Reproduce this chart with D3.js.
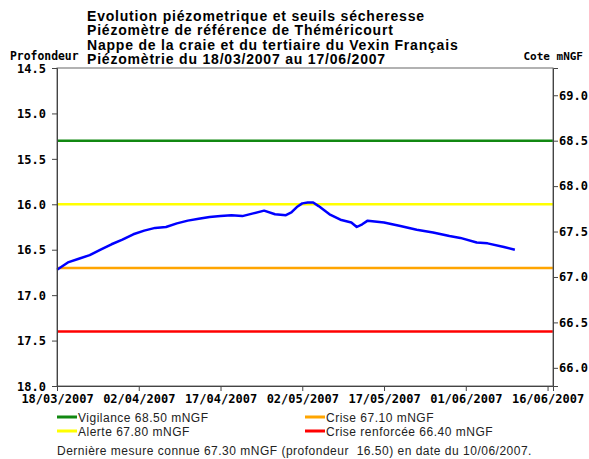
<!DOCTYPE html>
<meta charset="utf-8">
<script src="https://d3js.org/d3.v7.min.js"></script>
<style>
  body { margin: 0; background: #fff; }
</style>
<body>
<div id="chart"></div>
<script>

    // Title lines
    var titleLines = [
        "Evolution piézometrique et seuils sécheresse",
        "Piézomètre de référence de Théméricourt",
        "Nappe de la craie et du tertiaire du Vexin Français",
        "Piézomètrie du 18/03/2007 au 17/06/2007"
    ];

    // Measured depth (profondeur) by date
    var dates = ["18/03/2007","20/03/2007","22/03/2007","24/03/2007","26/03/2007","28/03/2007",
        "30/03/2007","01/04/2007","03/04/2007","05/04/2007","07/04/2007","09/04/2007","11/04/2007",
        "13/04/2007","15/04/2007","17/04/2007","19/04/2007","21/04/2007","23/04/2007","25/04/2007",
        "27/04/2007","29/04/2007","30/04/2007","01/05/2007","02/05/2007","03/05/2007","04/05/2007",
        "05/05/2007","07/05/2007","09/05/2007","11/05/2007","12/05/2007","13/05/2007","14/05/2007",
        "17/05/2007","20/05/2007","23/05/2007","26/05/2007","29/05/2007","31/05/2007","03/06/2007",
        "05/06/2007","08/06/2007","10/06/2007"];
    var depths = [16.72,16.64,16.60,16.56,16.50,16.44,
        16.39,16.33,16.29,16.26,16.25,16.21,16.18,
        16.16,16.14,16.13,16.12,16.13,16.10,16.07,
        16.11,16.12,16.09,16.03,15.99,15.98,15.98,
        16.02,16.11,16.17,16.20,16.25,16.22,16.18,
        16.20,16.24,16.28,16.31,16.35,16.37,16.42,
        16.43,16.47,16.50];

    // Drought thresholds (mNGF)
    var thresholdNames = ["Vigilance", "Alerte", "Crise", "Crise renforcée"];
    var thresholdValues = [68.50, 67.80, 67.10, 66.40];
    var thresholdColors = ["#118811", "#ffff00", "#ffa500", "#ff0000"];

    // Axis ticks
    var depthTicks = [14.5, 15.0, 15.5, 16.0, 16.5, 17.0, 17.5, 18.0];
    var coteTicks = [66.0, 66.5, 67.0, 67.5, 68.0, 68.5, 69.0];
    var dateTicks = ["18/03/2007","02/04/2007","17/04/2007","02/05/2007","17/05/2007","01/06/2007","16/06/2007"];
    var dateStart = "18/03/2007", dateEnd = "17/06/2007";

    // reference level : cote = zero - profondeur
    var zeroRef = 83.8;

    var W = 589, H = 459;
    var margin = {top: 68, right: 36, bottom: 73, left: 57},
        width = W - margin.left - margin.right,
        height = H - margin.top - margin.bottom;

    var parse = d3.timeParse("%d/%m/%Y");
    var fmt = d3.timeFormat("%d/%m/%Y");

    var x = d3.scaleTime()
        .domain([parse(dateStart), parse(dateEnd)])
        .range([0, width]);

    var y = d3.scaleLinear()
        .domain([14.5, 18.0])
        .range([0, height]);

    var yCote = d3.scaleLinear()
        .domain([zeroRef - 14.5, zeroRef - 18.0])
        .range([0, height]);

    var svg = d3.select("#chart")
        .append("svg")
        .attr("width", W)
        .attr("height", H);

    // title
    svg.append("text")
        .attr("x", 87)
        .attr("y", 21)
        .style("font-family", "'Liberation Sans', Arial, sans-serif")
        .style("font-weight", "bold")
        .style("font-size", "14px")
        .style("letter-spacing", "0.8px")
        .selectAll("tspan")
        .data(titleLines)
        .enter()
        .append("tspan")
        .attr("x", 87)
        .attr("dy", function(d, i) { return i === 0 ? 0 : 14.4; })
        .text(function(d) { return d; });

    var mono = "'DejaVu Sans Mono', monospace";

    svg.append("text")
        .attr("x", 10).attr("y", 60)
        .style("font-family", mono).style("font-weight", "bold").style("font-size", "11.4px")
        .text("Profondeur");

    svg.append("text")
        .attr("x", 583).attr("y", 60)
        .attr("text-anchor", "end")
        .style("font-family", mono).style("font-weight", "bold").style("font-size", "11px")
        .text("Cote mNGF");

    var g = svg.append("g")
        .attr("transform", "translate(" + margin.left + "," + margin.top + ")");

    // threshold lines
    g.selectAll(".seuil")
        .data(thresholdValues)
        .enter()
        .append("line")
        .attr("x1", 0)
        .attr("x2", width)
        .attr("y1", function(d) { return yCote(d); })
        .attr("y2", function(d) { return yCote(d); })
        .style("stroke", function(d, i) { return thresholdColors[i]; })
        .style("stroke-width", 2.5);

    // measured line
    var data = dates.map(function(d, i) { return {date: parse(d), depth: depths[i]}; });
    g.append("path")
        .datum(data)
        .attr("fill", "none")
        .attr("stroke", "#0000ff")
        .attr("stroke-width", 2.5)
        .attr("stroke-linejoin", "round")
        .attr("d", d3.line()
            .x(function(d) { return x(d.date); })
            .y(function(d) { return y(d.depth); }));

    // frame
    g.append("rect")
        .attr("width", width)
        .attr("height", height)
        .attr("fill", "none")
        .attr("stroke", "#666");

    function styleAxis(sel) {
        sel.selectAll("path, line").attr("stroke", "#444");
        sel.selectAll("text")
            .style("font-family", mono)
            .style("font-weight", "bold")
            .style("font-size", "12px")
            .attr("fill", "#000");
    }

    g.append("g")
        .call(d3.axisLeft(y).tickValues(depthTicks).tickFormat(d3.format(".1f")).tickSize(5).tickPadding(6))
        .call(styleAxis)
        .selectAll("text").attr("dy", "0.35em");

    g.append("g")
        .attr("transform", "translate(" + width + ",0)")
        .call(d3.axisRight(yCote).tickValues(coteTicks).tickFormat(d3.format(".1f")).tickSize(5).tickPadding(1))
        .call(styleAxis);

    g.append("g")
        .attr("transform", "translate(0," + height + ")")
        .call(d3.axisBottom(x).tickValues(dateTicks.map(parse)).tickFormat(fmt).tickSize(5).tickPadding(3))
        .call(styleAxis);

    // legend: Vigilance / Crise on first row, Alerte / Crise renforcée on second
    var legX = [57, 305], legY = [417, 431];
    var legPos = [[0, 0], [0, 1], [1, 0], [1, 1]];
    var leg = svg.selectAll(".leg")
        .data(thresholdValues)
        .enter()
        .append("g")
        .attr("transform", function(d, i) {
            return "translate(" + legX[legPos[i][0]] + "," + legY[legPos[i][1]] + ")";
        });
    leg.append("line")
        .attr("x1", 0).attr("x2", 20)
        .attr("y1", 0).attr("y2", 0)
        .style("stroke", function(d, i) { return thresholdColors[i]; })
        .style("stroke-width", 3);
    leg.append("text")
        .attr("x", 21).attr("y", 4.5)
        .style("font-family", "'Liberation Sans', Arial, sans-serif")
        .style("font-size", "12px")
        .style("letter-spacing", "0.5px")
        .attr("fill", "#222")
        .text(function(d, i) { return thresholdNames[i] + " " + d.toFixed(2) + " mNGF"; });

    // last measure note
    var last = data[data.length - 1];
    svg.append("text")
        .attr("x", 57).attr("y", 455)
        .attr("xml:space", "preserve")
        .style("white-space", "pre")
        .style("font-family", "'Liberation Sans', Arial, sans-serif")
        .style("font-size", "12px")
        .style("letter-spacing", "0.5px")
        .attr("fill", "#222")
        .text("Dernière mesure connue " + (zeroRef - last.depth).toFixed(2) + " mNGF (profondeur  "
            + last.depth.toFixed(2) + ") en date du " + fmt(last.date) + ".");

</script>
</body>
